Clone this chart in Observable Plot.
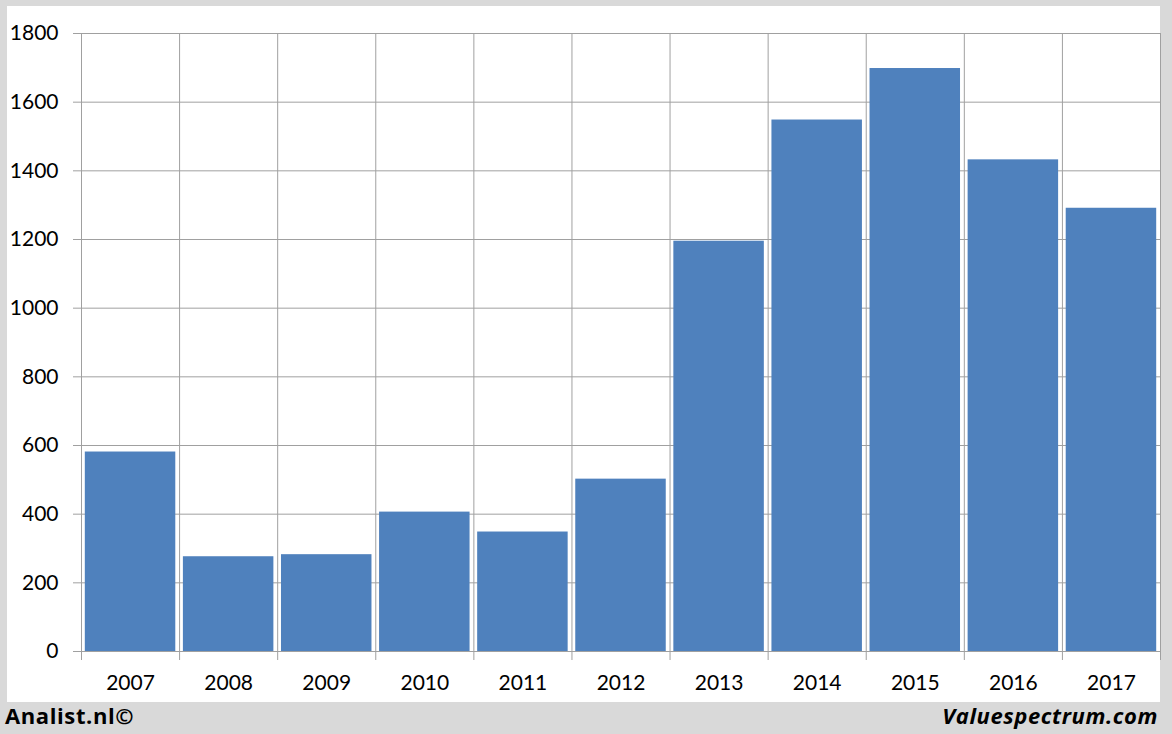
<!DOCTYPE html>
<html>
<head>
<meta charset="utf-8">
<script src="https://cdn.jsdelivr.net/npm/d3@7"></script>
<script src="https://cdn.jsdelivr.net/npm/@observablehq/plot@0.6"></script>
<style>
  html, body { margin: 0; padding: 0; }
  body { width: 1172px; height: 734px; background: #d9d9d9; position: relative; overflow: hidden; font-family: Lato, "Open Sans", sans-serif; }
  #chart { position: absolute; left: 7px; top: 6px; width: 1153px; height: 696px; background: #fff; }
  #chart svg { display: block; }
  .foot { position: absolute; top: 700px; font-family: "Open Sans", Lato, sans-serif; font-weight: bold; font-size: 22px; letter-spacing: 0.6px; color: #000; line-height: 30px; }
  #left { left: 5px; }
  #right { right: 14px; font-style: italic; }
</style>
</head>
<body>
<div id="chart"></div>
<div class="foot" id="left">Analist.nl©</div>
<div class="foot" id="right">Valuespectrum.com</div>
<script>
const years = [2007, 2008, 2009, 2010, 2011, 2012, 2013, 2014, 2015, 2016, 2017];
const values = [581, 276, 282, 406, 348, 502, 1195, 1548, 1698, 1432, 1291];
const yTicks = [0, 200, 400, 600, 800, 1000, 1200, 1400, 1600, 1800];

const data = years.map((year, i) => ({ year, value: values[i] }));
const boundaries = years.map(y => y - 0.5).concat([years[years.length - 1] + 0.5]);
const gridColor = "#a0a0a0";

const chart = Plot.plot({
  width: 1153,
  height: 696,
  marginLeft: 74,
  marginRight: 0,
  marginTop: 27,
  marginBottom: 51,
  style: { fontFamily: "Lato, 'Open Sans', sans-serif", fontSize: "21px", color: "#000", background: "#fff", overflow: "visible" },
  x: { domain: [boundaries[0], boundaries[boundaries.length - 1]], axis: null, label: null },
  y: { domain: [0, 1800], axis: null, label: null },
  marks: [
    Plot.ruleY(yTicks, { stroke: gridColor, strokeWidth: 1, insetLeft: -8 }),
    Plot.ruleX(boundaries, { stroke: gridColor, strokeWidth: 1, insetBottom: -9 }),
    Plot.rectY(data, {
      x1: d => d.year - 0.5,
      x2: d => d.year + 0.5,
      y1: 0,
      y2: "value",
      fill: "#4f81bd",
      insetLeft: 3.8,
      insetRight: 3.8
    }),
    Plot.axisY(yTicks, { tickSize: 0, tickPadding: 23, tickFormat: d => String(d), fontSize: 21, label: null }),
    Plot.axisX(years, { tickSize: 0, tickPadding: 24, tickFormat: d => String(d), fontSize: 21, label: null })
  ]
});
document.getElementById("chart").appendChild(chart);
</script>
</body>
</html>
